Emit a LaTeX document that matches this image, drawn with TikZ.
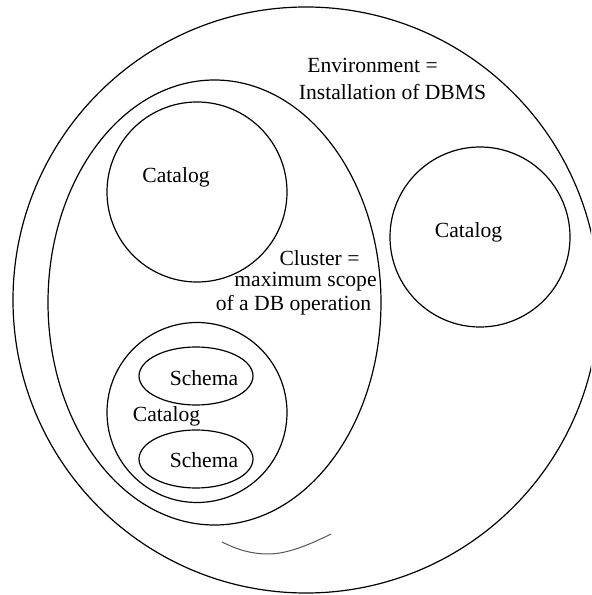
\documentclass[tikz,border=0pt]{standalone}
\usepackage{fontspec}
\setmainfont{Liberation Serif}
\usepackage{xcolor}
\definecolor{ArcGray}{HTML}{555555}
\tikzset{
  ring/.style={draw=black, line width=0.6pt},
  lbl/.style={anchor=base, inner sep=0pt, font=\fontsize{10.8}{13}\selectfont},
  faint/.style={draw=ArcGray, line width=0.5pt},
}

\begin{document}
\begin{tikzpicture}[x=0.5pt, y=0.5pt]
  \useasboundingbox (0,0) rectangle (591,595);
  \clip (0,0) rectangle (591,595);
  % environment and cluster
  \draw[ring] (306,295) circle [radius=293];
  \draw[ring] (214.5,292.5) ellipse [x radius=166.5, y radius=222.5];
  % catalogs
  \draw[ring] (197,403) circle [radius=90];
  \draw[ring] (480,358) circle [radius=90];
  \draw[ring] (197,182.5) circle [radius=90];
  % schemas
  \draw[ring] (196,219) ellipse [x radius=57, y radius=29];
  \draw[ring] (196,136) ellipse [x radius=57, y radius=29];
  % labels
  \node[lbl] (envA) at (372.5,522) {Environment =};
  \node[lbl] (envB) at (392.5,495) {Installation of DBMS};
  \node[lbl] (catA) at (176,412) {Catalog};
  \node[lbl] (catB) at (468.5,357) {Catalog};
  \node[lbl] (cluA) at (319.5,329) {Cluster =};
  \node[lbl] (cluB) at (305.5,308) {maximum scope};
  \node[lbl] (cluC) at (293.5,284) {of a DB operation};
  \node[lbl] (schA) at (204,209) {Schema};
  \node[lbl] (schB) at (204,127) {Schema};
  \node[lbl] (catC) at (166.5,173) {Catalog};
  % stray stroke
  \draw[faint] (222,53) .. controls (238,45) and (252,41) .. (268,41)
    .. controls (285,41) and (305,48) .. (331,61);
\end{tikzpicture}
\end{document}
